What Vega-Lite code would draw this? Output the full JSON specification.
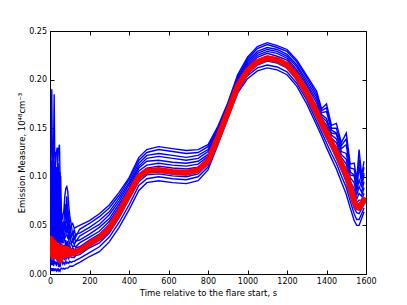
{
"$schema": "https://vega.github.io/schema/vega-lite/v6.json",
"width": 316, "height": 243,
"autosize": {"type": "none"},
"padding": {"left": 50, "top": 31, "right": 41, "bottom": 31},
"background": "white",
"config": {"font": "DejaVu Sans", "view": {"stroke": null},
  "axis": {"domainColor": "black", "tickColor": "black", "labelColor": "black", "titleColor": "black", "labelFont": "DejaVu Sans", "titleFont": "DejaVu Sans", "labelFontSize": 8, "titleFontSize": 8.5, "titleFontWeight": "normal", "grid": false, "tickSize": -4, "domainWidth": 1, "labelFlush": false, "labelOverlap": false}},
"datasets": {
"blue": [
{"t":0,"k":"a","v":0.037},{"t":0,"k":"b","v":0.035},{"t":0,"k":"c","v":0.061},{"t":0,"k":"d","v":0.046},{"t":0,"k":"e","v":0.085},{"t":0,"k":"f","v":0.057},{"t":0,"k":"g","v":0.110},{"t":0,"k":"h","v":0.017},{"t":0,"k":"i","v":0.011},{"t":0,"k":"j","v":0.004},
{"t":3,"k":"a","v":0.042},{"t":3,"k":"b","v":0.060},{"t":3,"k":"c","v":0.052},{"t":3,"k":"d","v":0.084},{"t":3,"k":"e","v":0.063},{"t":3,"k":"f","v":0.108},{"t":3,"k":"g","v":0.090},{"t":3,"k":"h","v":0.026},{"t":3,"k":"i","v":0.016},{"t":3,"k":"j","v":0.006},
{"t":6,"k":"a","v":0.041},{"t":6,"k":"b","v":0.039},{"t":6,"k":"c","v":0.077},{"t":6,"k":"d","v":0.055},{"t":6,"k":"e","v":0.113},{"t":6,"k":"f","v":0.072},{"t":6,"k":"g","v":0.150},{"t":6,"k":"h","v":0.016},{"t":6,"k":"i","v":0.009},{"t":6,"k":"j","v":0.003},
{"t":9,"k":"a","v":0.040},{"t":9,"k":"b","v":0.062},{"t":9,"k":"c","v":0.053},{"t":9,"k":"d","v":0.089},{"t":9,"k":"e","v":0.065},{"t":9,"k":"f","v":0.117},{"t":9,"k":"g","v":0.190},{"t":9,"k":"h","v":0.024},{"t":9,"k":"i","v":0.015},{"t":9,"k":"j","v":0.005},
{"t":12,"k":"a","v":0.035},{"t":12,"k":"b","v":0.033},{"t":12,"k":"c","v":0.063},{"t":12,"k":"d","v":0.046},{"t":12,"k":"e","v":0.091},{"t":12,"k":"f","v":0.059},{"t":12,"k":"g","v":0.120},{"t":12,"k":"h","v":0.015},{"t":12,"k":"i","v":0.009},{"t":12,"k":"j","v":0.004},
{"t":15,"k":"a","v":0.036},{"t":15,"k":"b","v":0.058},{"t":15,"k":"c","v":0.048},{"t":15,"k":"d","v":0.084},{"t":15,"k":"e","v":0.060},{"t":15,"k":"f","v":0.112},{"t":15,"k":"g","v":0.100},{"t":15,"k":"h","v":0.022},{"t":15,"k":"i","v":0.014},{"t":15,"k":"j","v":0.006},
{"t":18,"k":"a","v":0.035},{"t":18,"k":"b","v":0.033},{"t":18,"k":"c","v":0.066},{"t":18,"k":"d","v":0.047},{"t":18,"k":"e","v":0.098},{"t":18,"k":"f","v":0.061},{"t":18,"k":"g","v":0.130},{"t":18,"k":"h","v":0.013},{"t":18,"k":"i","v":0.008},{"t":18,"k":"j","v":0.003},
{"t":21,"k":"a","v":0.039},{"t":21,"k":"b","v":0.060},{"t":21,"k":"c","v":0.051},{"t":21,"k":"d","v":0.088},{"t":21,"k":"e","v":0.063},{"t":21,"k":"f","v":0.116},{"t":21,"k":"g","v":0.185},{"t":21,"k":"h","v":0.023},{"t":21,"k":"i","v":0.014},{"t":21,"k":"j","v":0.005},
{"t":24,"k":"a","v":0.038},{"t":24,"k":"b","v":0.035},{"t":24,"k":"c","v":0.066},{"t":24,"k":"d","v":0.048},{"t":24,"k":"e","v":0.095},{"t":24,"k":"f","v":0.062},{"t":24,"k":"g","v":0.125},{"t":24,"k":"h","v":0.016},{"t":24,"k":"i","v":0.010},{"t":24,"k":"j","v":0.004},
{"t":27,"k":"a","v":0.034},{"t":27,"k":"b","v":0.055},{"t":27,"k":"c","v":0.046},{"t":27,"k":"d","v":0.080},{"t":27,"k":"e","v":0.057},{"t":27,"k":"f","v":0.107},{"t":27,"k":"g","v":0.100},{"t":27,"k":"h","v":0.020},{"t":27,"k":"i","v":0.013},{"t":27,"k":"j","v":0.005},
{"t":30,"k":"a","v":0.041},{"t":30,"k":"b","v":0.039},{"t":30,"k":"c","v":0.069},{"t":30,"k":"d","v":0.051},{"t":30,"k":"e","v":0.096},{"t":30,"k":"f","v":0.064},{"t":30,"k":"g","v":0.125},{"t":30,"k":"h","v":0.019},{"t":30,"k":"i","v":0.011},{"t":30,"k":"j","v":0.004},
{"t":33,"k":"a","v":0.026},{"t":33,"k":"b","v":0.050},{"t":33,"k":"c","v":0.040},{"t":33,"k":"d","v":0.079},{"t":33,"k":"e","v":0.053},{"t":33,"k":"f","v":0.110},{"t":33,"k":"g","v":0.125},{"t":33,"k":"h","v":0.014},{"t":33,"k":"i","v":0.008},{"t":33,"k":"j","v":0.003},
{"t":36,"k":"a","v":0.044},{"t":36,"k":"b","v":0.042},{"t":36,"k":"c","v":0.072},{"t":36,"k":"d","v":0.055},{"t":36,"k":"e","v":0.101},{"t":36,"k":"f","v":0.068},{"t":36,"k":"g","v":0.130},{"t":36,"k":"h","v":0.021},{"t":36,"k":"i","v":0.013},{"t":36,"k":"j","v":0.005},
{"t":39,"k":"a","v":0.028},{"t":39,"k":"b","v":0.051},{"t":39,"k":"c","v":0.041},{"t":39,"k":"d","v":0.080},{"t":39,"k":"e","v":0.054},{"t":39,"k":"f","v":0.110},{"t":39,"k":"g","v":0.110},{"t":39,"k":"h","v":0.015},{"t":39,"k":"i","v":0.010},{"t":39,"k":"j","v":0.004},
{"t":42,"k":"a","v":0.042},{"t":42,"k":"b","v":0.040},{"t":42,"k":"c","v":0.070},{"t":42,"k":"d","v":0.053},{"t":42,"k":"e","v":0.099},{"t":42,"k":"f","v":0.066},{"t":42,"k":"g","v":0.128},{"t":42,"k":"h","v":0.020},{"t":42,"k":"i","v":0.012},{"t":42,"k":"j","v":0.005},
{"t":45,"k":"a","v":0.024},{"t":45,"k":"b","v":0.049},{"t":45,"k":"c","v":0.038},{"t":45,"k":"d","v":0.081},{"t":45,"k":"e","v":0.052},{"t":45,"k":"f","v":0.114},{"t":45,"k":"g","v":0.130},{"t":45,"k":"h","v":0.012},{"t":45,"k":"i","v":0.007},{"t":45,"k":"j","v":0.003},
{"t":48,"k":"a","v":0.040},{"t":48,"k":"b","v":0.038},{"t":48,"k":"c","v":0.071},{"t":48,"k":"d","v":0.052},{"t":48,"k":"e","v":0.101},{"t":48,"k":"f","v":0.066},{"t":48,"k":"g","v":0.133},{"t":48,"k":"h","v":0.017},{"t":48,"k":"i","v":0.011},{"t":48,"k":"j","v":0.004},
{"t":51,"k":"a","v":0.021},{"t":51,"k":"b","v":0.045},{"t":51,"k":"c","v":0.035},{"t":51,"k":"d","v":0.074},{"t":51,"k":"e","v":0.048},{"t":51,"k":"f","v":0.105},{"t":51,"k":"g","v":0.100},{"t":51,"k":"h","v":0.010},{"t":51,"k":"i","v":0.007},{"t":51,"k":"j","v":0.003},
{"t":54,"k":"a","v":0.034},{"t":54,"k":"b","v":0.032},{"t":54,"k":"c","v":0.055},{"t":54,"k":"d","v":0.042},{"t":54,"k":"e","v":0.077},{"t":54,"k":"f","v":0.052},{"t":54,"k":"g","v":0.100},{"t":54,"k":"h","v":0.016},{"t":54,"k":"i","v":0.011},{"t":54,"k":"j","v":0.005},
{"t":57,"k":"a","v":0.029},{"t":57,"k":"b","v":0.039},{"t":57,"k":"c","v":0.035},{"t":57,"k":"d","v":0.051},{"t":57,"k":"e","v":0.040},{"t":57,"k":"f","v":0.064},{"t":57,"k":"g","v":0.070},{"t":57,"k":"h","v":0.019},{"t":57,"k":"i","v":0.013},{"t":57,"k":"j","v":0.006},
{"t":60,"k":"a","v":0.031},{"t":60,"k":"b","v":0.033},{"t":60,"k":"c","v":0.039},{"t":60,"k":"d","v":0.038},{"t":60,"k":"e","v":0.047},{"t":60,"k":"f","v":0.044},{"t":60,"k":"g","v":0.055},{"t":60,"k":"h","v":0.020},{"t":60,"k":"i","v":0.013},{"t":60,"k":"j","v":0.006},
{"t":65,"k":"a","v":0.024},{"t":65,"k":"b","v":0.032},{"t":65,"k":"c","v":0.032},{"t":65,"k":"d","v":0.043},{"t":65,"k":"e","v":0.040},{"t":65,"k":"f","v":0.054},{"t":65,"k":"g","v":0.060},{"t":65,"k":"h","v":0.015},{"t":65,"k":"i","v":0.010},{"t":65,"k":"j","v":0.005},
{"t":70,"k":"a","v":0.030},{"t":70,"k":"b","v":0.032},{"t":70,"k":"c","v":0.042},{"t":70,"k":"d","v":0.040},{"t":70,"k":"e","v":0.053},{"t":70,"k":"f","v":0.049},{"t":70,"k":"g","v":0.065},{"t":70,"k":"h","v":0.018},{"t":70,"k":"i","v":0.012},{"t":70,"k":"j","v":0.006},
{"t":75,"k":"a","v":0.025},{"t":75,"k":"b","v":0.037},{"t":75,"k":"c","v":0.037},{"t":75,"k":"d","v":0.054},{"t":75,"k":"e","v":0.049},{"t":75,"k":"f","v":0.072},{"t":75,"k":"g","v":0.080},{"t":75,"k":"h","v":0.014},{"t":75,"k":"i","v":0.010},{"t":75,"k":"j","v":0.005},
{"t":80,"k":"a","v":0.035},{"t":80,"k":"b","v":0.039},{"t":80,"k":"c","v":0.053},{"t":80,"k":"d","v":0.051},{"t":80,"k":"e","v":0.070},{"t":80,"k":"f","v":0.063},{"t":80,"k":"g","v":0.088},{"t":80,"k":"h","v":0.019},{"t":80,"k":"i","v":0.013},{"t":80,"k":"j","v":0.006},
{"t":85,"k":"a","v":0.028},{"t":85,"k":"b","v":0.041},{"t":85,"k":"c","v":0.042},{"t":85,"k":"d","v":0.060},{"t":85,"k":"e","v":0.055},{"t":85,"k":"f","v":0.080},{"t":85,"k":"g","v":0.090},{"t":85,"k":"h","v":0.016},{"t":85,"k":"i","v":0.011},{"t":85,"k":"j","v":0.006},
{"t":90,"k":"a","v":0.034},{"t":90,"k":"b","v":0.037},{"t":90,"k":"c","v":0.051},{"t":90,"k":"d","v":0.049},{"t":90,"k":"e","v":0.068},{"t":90,"k":"f","v":0.061},{"t":90,"k":"g","v":0.085},{"t":90,"k":"h","v":0.019},{"t":90,"k":"i","v":0.012},{"t":90,"k":"j","v":0.006},
{"t":95,"k":"a","v":0.025},{"t":95,"k":"b","v":0.035},{"t":95,"k":"c","v":0.035},{"t":95,"k":"d","v":0.049},{"t":95,"k":"e","v":0.045},{"t":95,"k":"f","v":0.063},{"t":95,"k":"g","v":0.070},{"t":95,"k":"h","v":0.016},{"t":95,"k":"i","v":0.011},{"t":95,"k":"j","v":0.007},
{"t":100,"k":"a","v":0.029},{"t":100,"k":"b","v":0.031},{"t":100,"k":"c","v":0.040},{"t":100,"k":"d","v":0.038},{"t":100,"k":"e","v":0.050},{"t":100,"k":"f","v":0.046},{"t":100,"k":"g","v":0.060},{"t":100,"k":"h","v":0.019},{"t":100,"k":"i","v":0.013},{"t":100,"k":"j","v":0.008},
{"t":108,"k":"a","v":0.025},{"t":108,"k":"b","v":0.031},{"t":108,"k":"c","v":0.031},{"t":108,"k":"d","v":0.040},{"t":108,"k":"e","v":0.038},{"t":108,"k":"f","v":0.050},{"t":108,"k":"g","v":0.050},{"t":108,"k":"h","v":0.017},{"t":108,"k":"i","v":0.012},{"t":108,"k":"j","v":0.008},
{"t":115,"k":"a","v":0.027},{"t":115,"k":"b","v":0.028},{"t":115,"k":"c","v":0.035},{"t":115,"k":"d","v":0.034},{"t":115,"k":"e","v":0.043},{"t":115,"k":"f","v":0.040},{"t":115,"k":"g","v":0.052},{"t":115,"k":"h","v":0.017},{"t":115,"k":"i","v":0.013},{"t":115,"k":"j","v":0.008},
{"t":123,"k":"a","v":0.024},{"t":123,"k":"b","v":0.029},{"t":123,"k":"c","v":0.030},{"t":123,"k":"d","v":0.038},{"t":123,"k":"e","v":0.035},{"t":123,"k":"f","v":0.046},{"t":123,"k":"g","v":0.047},{"t":123,"k":"h","v":0.017},{"t":123,"k":"i","v":0.013},{"t":123,"k":"j","v":0.009},
{"t":130,"k":"a","v":0.027},{"t":130,"k":"b","v":0.028},{"t":130,"k":"c","v":0.034},{"t":130,"k":"d","v":0.033},{"t":130,"k":"e","v":0.041},{"t":130,"k":"f","v":0.038},{"t":130,"k":"g","v":0.048},{"t":130,"k":"h","v":0.019},{"t":130,"k":"i","v":0.014},{"t":130,"k":"j","v":0.010},
{"t":150,"k":"a","v":0.028},{"t":150,"k":"b","v":0.032},{"t":150,"k":"c","v":0.035},{"t":150,"k":"d","v":0.039},{"t":150,"k":"e","v":0.042},{"t":150,"k":"f","v":0.046},{"t":150,"k":"g","v":0.050},{"t":150,"k":"h","v":0.020},{"t":150,"k":"i","v":0.016},{"t":150,"k":"j","v":0.012},
{"t":200,"k":"a","v":0.035},{"t":200,"k":"b","v":0.038},{"t":200,"k":"c","v":0.041},{"t":200,"k":"d","v":0.045},{"t":200,"k":"e","v":0.048},{"t":200,"k":"f","v":0.052},{"t":200,"k":"g","v":0.055},{"t":200,"k":"h","v":0.027},{"t":200,"k":"i","v":0.022},{"t":200,"k":"j","v":0.018},
{"t":250,"k":"a","v":0.041},{"t":250,"k":"b","v":0.044},{"t":250,"k":"c","v":0.048},{"t":250,"k":"d","v":0.051},{"t":250,"k":"e","v":0.055},{"t":250,"k":"f","v":0.059},{"t":250,"k":"g","v":0.062},{"t":250,"k":"h","v":0.032},{"t":250,"k":"i","v":0.028},{"t":250,"k":"j","v":0.023},
{"t":300,"k":"a","v":0.051},{"t":300,"k":"b","v":0.054},{"t":300,"k":"c","v":0.057},{"t":300,"k":"d","v":0.061},{"t":300,"k":"e","v":0.064},{"t":300,"k":"f","v":0.068},{"t":300,"k":"g","v":0.071},{"t":300,"k":"h","v":0.042},{"t":300,"k":"i","v":0.038},{"t":300,"k":"j","v":0.033},
{"t":350,"k":"a","v":0.066},{"t":350,"k":"b","v":0.069},{"t":350,"k":"c","v":0.072},{"t":350,"k":"d","v":0.075},{"t":350,"k":"e","v":0.078},{"t":350,"k":"f","v":0.081},{"t":350,"k":"g","v":0.084},{"t":350,"k":"h","v":0.058},{"t":350,"k":"i","v":0.053},{"t":350,"k":"j","v":0.048},
{"t":400,"k":"a","v":0.085},{"t":400,"k":"b","v":0.087},{"t":400,"k":"c","v":0.089},{"t":400,"k":"d","v":0.092},{"t":400,"k":"e","v":0.094},{"t":400,"k":"f","v":0.097},{"t":400,"k":"g","v":0.099},{"t":400,"k":"h","v":0.077},{"t":400,"k":"i","v":0.071},{"t":400,"k":"j","v":0.066},
{"t":450,"k":"a","v":0.103},{"t":450,"k":"b","v":0.106},{"t":450,"k":"c","v":0.109},{"t":450,"k":"d","v":0.111},{"t":450,"k":"e","v":0.114},{"t":450,"k":"f","v":0.117},{"t":450,"k":"g","v":0.120},{"t":450,"k":"h","v":0.095},{"t":450,"k":"i","v":0.091},{"t":450,"k":"j","v":0.086},
{"t":490,"k":"a","v":0.109},{"t":490,"k":"b","v":0.112},{"t":490,"k":"c","v":0.116},{"t":490,"k":"d","v":0.119},{"t":490,"k":"e","v":0.122},{"t":490,"k":"f","v":0.125},{"t":490,"k":"g","v":0.128},{"t":490,"k":"h","v":0.102},{"t":490,"k":"i","v":0.098},{"t":490,"k":"j","v":0.094},
{"t":550,"k":"a","v":0.111},{"t":550,"k":"b","v":0.114},{"t":550,"k":"c","v":0.117},{"t":550,"k":"d","v":0.121},{"t":550,"k":"e","v":0.124},{"t":550,"k":"f","v":0.128},{"t":550,"k":"g","v":0.131},{"t":550,"k":"h","v":0.103},{"t":550,"k":"i","v":0.100},{"t":550,"k":"j","v":0.096},
{"t":620,"k":"a","v":0.109},{"t":620,"k":"b","v":0.112},{"t":620,"k":"c","v":0.115},{"t":620,"k":"d","v":0.119},{"t":620,"k":"e","v":0.122},{"t":620,"k":"f","v":0.126},{"t":620,"k":"g","v":0.129},{"t":620,"k":"h","v":0.101},{"t":620,"k":"i","v":0.098},{"t":620,"k":"j","v":0.094},
{"t":690,"k":"a","v":0.108},{"t":690,"k":"b","v":0.111},{"t":690,"k":"c","v":0.114},{"t":690,"k":"d","v":0.117},{"t":690,"k":"e","v":0.120},{"t":690,"k":"f","v":0.124},{"t":690,"k":"g","v":0.127},{"t":690,"k":"h","v":0.100},{"t":690,"k":"i","v":0.097},{"t":690,"k":"j","v":0.093},
{"t":750,"k":"a","v":0.110},{"t":750,"k":"b","v":0.113},{"t":750,"k":"c","v":0.116},{"t":750,"k":"d","v":0.119},{"t":750,"k":"e","v":0.122},{"t":750,"k":"f","v":0.125},{"t":750,"k":"g","v":0.128},{"t":750,"k":"h","v":0.103},{"t":750,"k":"i","v":0.100},{"t":750,"k":"j","v":0.096},
{"t":800,"k":"a","v":0.119},{"t":800,"k":"b","v":0.121},{"t":800,"k":"c","v":0.123},{"t":800,"k":"d","v":0.126},{"t":800,"k":"e","v":0.128},{"t":800,"k":"f","v":0.131},{"t":800,"k":"g","v":0.133},{"t":800,"k":"h","v":0.113},{"t":800,"k":"i","v":0.110},{"t":800,"k":"j","v":0.107},
{"t":850,"k":"a","v":0.142},{"t":850,"k":"b","v":0.144},{"t":850,"k":"c","v":0.145},{"t":850,"k":"d","v":0.147},{"t":850,"k":"e","v":0.149},{"t":850,"k":"f","v":0.150},{"t":850,"k":"g","v":0.152},{"t":850,"k":"h","v":0.138},{"t":850,"k":"i","v":0.135},{"t":850,"k":"j","v":0.133},
{"t":900,"k":"a","v":0.168},{"t":900,"k":"b","v":0.169},{"t":900,"k":"c","v":0.170},{"t":900,"k":"d","v":0.172},{"t":900,"k":"e","v":0.173},{"t":900,"k":"f","v":0.175},{"t":900,"k":"g","v":0.176},{"t":900,"k":"h","v":0.164},{"t":900,"k":"i","v":0.162},{"t":900,"k":"j","v":0.160},
{"t":950,"k":"a","v":0.195},{"t":950,"k":"b","v":0.196},{"t":950,"k":"c","v":0.198},{"t":950,"k":"d","v":0.200},{"t":950,"k":"e","v":0.201},{"t":950,"k":"f","v":0.203},{"t":950,"k":"g","v":0.205},{"t":950,"k":"h","v":0.191},{"t":950,"k":"i","v":0.188},{"t":950,"k":"j","v":0.186},
{"t":1000,"k":"a","v":0.211},{"t":1000,"k":"b","v":0.213},{"t":1000,"k":"c","v":0.215},{"t":1000,"k":"d","v":0.217},{"t":1000,"k":"e","v":0.219},{"t":1000,"k":"f","v":0.221},{"t":1000,"k":"g","v":0.223},{"t":1000,"k":"h","v":0.206},{"t":1000,"k":"i","v":0.204},{"t":1000,"k":"j","v":0.201},
{"t":1050,"k":"a","v":0.220},{"t":1050,"k":"b","v":0.223},{"t":1050,"k":"c","v":0.225},{"t":1050,"k":"d","v":0.227},{"t":1050,"k":"e","v":0.229},{"t":1050,"k":"f","v":0.232},{"t":1050,"k":"g","v":0.234},{"t":1050,"k":"h","v":0.215},{"t":1050,"k":"i","v":0.212},{"t":1050,"k":"j","v":0.209},
{"t":1100,"k":"a","v":0.224},{"t":1100,"k":"b","v":0.227},{"t":1100,"k":"c","v":0.229},{"t":1100,"k":"d","v":0.231},{"t":1100,"k":"e","v":0.233},{"t":1100,"k":"f","v":0.236},{"t":1100,"k":"g","v":0.238},{"t":1100,"k":"h","v":0.219},{"t":1100,"k":"i","v":0.215},{"t":1100,"k":"j","v":0.212},
{"t":1150,"k":"a","v":0.222},{"t":1150,"k":"b","v":0.224},{"t":1150,"k":"c","v":0.227},{"t":1150,"k":"d","v":0.229},{"t":1150,"k":"e","v":0.231},{"t":1150,"k":"f","v":0.233},{"t":1150,"k":"g","v":0.235},{"t":1150,"k":"h","v":0.217},{"t":1150,"k":"i","v":0.213},{"t":1150,"k":"j","v":0.210},
{"t":1200,"k":"a","v":0.217},{"t":1200,"k":"b","v":0.220},{"t":1200,"k":"c","v":0.222},{"t":1200,"k":"d","v":0.224},{"t":1200,"k":"e","v":0.226},{"t":1200,"k":"f","v":0.229},{"t":1200,"k":"g","v":0.231},{"t":1200,"k":"h","v":0.212},{"t":1200,"k":"i","v":0.208},{"t":1200,"k":"j","v":0.205},
{"t":1250,"k":"a","v":0.206},{"t":1250,"k":"b","v":0.208},{"t":1250,"k":"c","v":0.210},{"t":1250,"k":"d","v":0.213},{"t":1250,"k":"e","v":0.215},{"t":1250,"k":"f","v":0.218},{"t":1250,"k":"g","v":0.220},{"t":1250,"k":"h","v":0.200},{"t":1250,"k":"i","v":0.196},{"t":1250,"k":"j","v":0.193},
{"t":1300,"k":"a","v":0.189},{"t":1300,"k":"b","v":0.191},{"t":1300,"k":"c","v":0.194},{"t":1300,"k":"d","v":0.196},{"t":1300,"k":"e","v":0.199},{"t":1300,"k":"f","v":0.202},{"t":1300,"k":"g","v":0.204},{"t":1300,"k":"h","v":0.182},{"t":1300,"k":"i","v":0.179},{"t":1300,"k":"j","v":0.175},
{"t":1350,"k":"a","v":0.169},{"t":1350,"k":"b","v":0.172},{"t":1350,"k":"c","v":0.176},{"t":1350,"k":"d","v":0.179},{"t":1350,"k":"e","v":0.182},{"t":1350,"k":"f","v":0.185},{"t":1350,"k":"g","v":0.188},{"t":1350,"k":"h","v":0.162},{"t":1350,"k":"i","v":0.157},{"t":1350,"k":"j","v":0.153},
{"t":1375,"k":"a","v":0.158},{"t":1375,"k":"b","v":0.160},{"t":1375,"k":"c","v":0.162},{"t":1375,"k":"d","v":0.164},{"t":1375,"k":"e","v":0.166},{"t":1375,"k":"f","v":0.168},{"t":1375,"k":"g","v":0.170},{"t":1375,"k":"h","v":0.151},{"t":1375,"k":"i","v":0.146},{"t":1375,"k":"j","v":0.142},
{"t":1400,"k":"a","v":0.149},{"t":1400,"k":"b","v":0.153},{"t":1400,"k":"c","v":0.157},{"t":1400,"k":"d","v":0.160},{"t":1400,"k":"e","v":0.167},{"t":1400,"k":"f","v":0.171},{"t":1400,"k":"g","v":0.175},{"t":1400,"k":"h","v":0.140},{"t":1400,"k":"i","v":0.135},{"t":1400,"k":"j","v":0.130},
{"t":1425,"k":"a","v":0.138},{"t":1425,"k":"b","v":0.140},{"t":1425,"k":"c","v":0.143},{"t":1425,"k":"d","v":0.145},{"t":1425,"k":"e","v":0.148},{"t":1425,"k":"f","v":0.150},{"t":1425,"k":"g","v":0.153},{"t":1425,"k":"h","v":0.130},{"t":1425,"k":"i","v":0.124},{"t":1425,"k":"j","v":0.119},
{"t":1450,"k":"a","v":0.130},{"t":1450,"k":"b","v":0.135},{"t":1450,"k":"c","v":0.139},{"t":1450,"k":"d","v":0.144},{"t":1450,"k":"e","v":0.145},{"t":1450,"k":"f","v":0.150},{"t":1450,"k":"g","v":0.155},{"t":1450,"k":"h","v":0.119},{"t":1450,"k":"i","v":0.114},{"t":1450,"k":"j","v":0.108},
{"t":1475,"k":"a","v":0.117},{"t":1475,"k":"b","v":0.120},{"t":1475,"k":"c","v":0.123},{"t":1475,"k":"d","v":0.126},{"t":1475,"k":"e","v":0.129},{"t":1475,"k":"f","v":0.132},{"t":1475,"k":"g","v":0.135},{"t":1475,"k":"h","v":0.107},{"t":1475,"k":"i","v":0.101},{"t":1475,"k":"j","v":0.095},
{"t":1500,"k":"a","v":0.108},{"t":1500,"k":"b","v":0.113},{"t":1500,"k":"c","v":0.118},{"t":1500,"k":"d","v":0.124},{"t":1500,"k":"e","v":0.133},{"t":1500,"k":"f","v":0.139},{"t":1500,"k":"g","v":0.145},{"t":1500,"k":"h","v":0.095},{"t":1500,"k":"i","v":0.089},{"t":1500,"k":"j","v":0.082},
{"t":1520,"k":"a","v":0.092},{"t":1520,"k":"b","v":0.095},{"t":1520,"k":"c","v":0.099},{"t":1520,"k":"d","v":0.102},{"t":1520,"k":"e","v":0.105},{"t":1520,"k":"f","v":0.109},{"t":1520,"k":"g","v":0.113},{"t":1520,"k":"h","v":0.081},{"t":1520,"k":"i","v":0.075},{"t":1520,"k":"j","v":0.068},
{"t":1540,"k":"a","v":0.082},{"t":1540,"k":"b","v":0.088},{"t":1540,"k":"c","v":0.094},{"t":1540,"k":"d","v":0.101},{"t":1540,"k":"e","v":0.102},{"t":1540,"k":"f","v":0.108},{"t":1540,"k":"g","v":0.114},{"t":1540,"k":"h","v":0.068},{"t":1540,"k":"i","v":0.062},{"t":1540,"k":"j","v":0.055},
{"t":1553,"k":"a","v":0.073},{"t":1553,"k":"b","v":0.077},{"t":1553,"k":"c","v":0.081},{"t":1553,"k":"d","v":0.085},{"t":1553,"k":"e","v":0.089},{"t":1553,"k":"f","v":0.093},{"t":1553,"k":"g","v":0.097},{"t":1553,"k":"h","v":0.063},{"t":1553,"k":"i","v":0.056},{"t":1553,"k":"j","v":0.050},
{"t":1565,"k":"a","v":0.076},{"t":1565,"k":"b","v":0.083},{"t":1565,"k":"c","v":0.090},{"t":1565,"k":"d","v":0.097},{"t":1565,"k":"e","v":0.110},{"t":1565,"k":"f","v":0.118},{"t":1565,"k":"g","v":0.128},{"t":1565,"k":"h","v":0.062},{"t":1565,"k":"i","v":0.056},{"t":1565,"k":"j","v":0.050},
{"t":1578,"k":"a","v":0.076},{"t":1578,"k":"b","v":0.080},{"t":1578,"k":"c","v":0.084},{"t":1578,"k":"d","v":0.089},{"t":1578,"k":"e","v":0.093},{"t":1578,"k":"f","v":0.097},{"t":1578,"k":"g","v":0.101},{"t":1578,"k":"h","v":0.067},{"t":1578,"k":"i","v":0.062},{"t":1578,"k":"j","v":0.057},
{"t":1590,"k":"a","v":0.083},{"t":1590,"k":"b","v":0.089},{"t":1590,"k":"c","v":0.095},{"t":1590,"k":"d","v":0.102},{"t":1590,"k":"e","v":0.104},{"t":1590,"k":"f","v":0.110},{"t":1590,"k":"g","v":0.116},{"t":1590,"k":"h","v":0.072},{"t":1590,"k":"i","v":0.068},{"t":1590,"k":"j","v":0.064}
],
"red": [
{"t":0,"v":0.024},{"t":3,"v":0.036},{"t":6,"v":0.022},{"t":9,"v":0.034},{"t":12,"v":0.020},{"t":15,"v":0.030},{"t":18,"v":0.018},{"t":21,"v":0.032},{"t":24,"v":0.022},{"t":27,"v":0.028},{"t":30,"v":0.026},{"t":33,"v":0.019},{"t":36,"v":0.029},{"t":39,"v":0.021},{"t":42,"v":0.027},{"t":45,"v":0.016},{"t":48,"v":0.024},{"t":51,"v":0.014},{"t":54,"v":0.022},{"t":57,"v":0.026},{"t":60,"v":0.027},{"t":65,"v":0.020},{"t":70,"v":0.024},{"t":75,"v":0.019},{"t":80,"v":0.026},{"t":85,"v":0.021},{"t":90,"v":0.025},{"t":95,"v":0.020},{"t":100,"v":0.024},{"t":108,"v":0.021},{"t":115,"v":0.022},{"t":123,"v":0.021},{"t":130,"v":0.023},{"t":150,"v":0.024},{"t":200,"v":0.031},{"t":250,"v":0.037},{"t":300,"v":0.047},{"t":350,"v":0.063},{"t":400,"v":0.082},{"t":450,"v":0.100},{"t":490,"v":0.106},{"t":550,"v":0.107},{"t":620,"v":0.105},{"t":690,"v":0.104},{"t":750,"v":0.107},{"t":800,"v":0.116},{"t":850,"v":0.140},{"t":900,"v":0.166},{"t":950,"v":0.193},{"t":1000,"v":0.209},{"t":1050,"v":0.218},{"t":1100,"v":0.222},{"t":1150,"v":0.220},{"t":1200,"v":0.215},{"t":1250,"v":0.203},{"t":1300,"v":0.186},{"t":1350,"v":0.166},{"t":1375,"v":0.155},{"t":1400,"v":0.145},{"t":1425,"v":0.135},{"t":1450,"v":0.125},{"t":1475,"v":0.113},{"t":1500,"v":0.102},{"t":1520,"v":0.089},{"t":1540,"v":0.075},{"t":1553,"v":0.069},{"t":1565,"v":0.068},{"t":1578,"v":0.072},{"t":1590,"v":0.076}
]
},
"layer": [
{"data": {"name": "blue"},
 "mark": {"type": "line", "color": "#0000ff", "strokeWidth": 1.4, "clip": true},
 "encoding": {
  "x": {"field": "t", "type": "quantitative", "scale": {"domain": [0, 1600], "nice": false, "zero": false},
        "axis": {"orient": "bottom", "values": [0,200,400,600,800,1000,1200,1400,1600], "format": "d", "title": "Time relative to the flare start, s", "labelPadding": 7, "titlePadding": 3}},
  "y": {"field": "v", "type": "quantitative", "scale": {"domain": [0, 0.25], "nice": false},
        "axis": {"orient": "left", "values": [0,0.05,0.1,0.15,0.2,0.25], "format": ".2f", "title": "Emission Measure, 10⁴⁸cm⁻³", "labelPadding": 7.5, "titlePadding": 2}},
  "detail": {"field": "k", "type": "nominal"}
 }},
{"data": {"name": "red"},
 "mark": {"type": "line", "color": "#ff0000", "strokeWidth": 6, "strokeJoin": "round", "strokeCap": "round", "clip": true},
 "encoding": {
  "x": {"field": "t", "type": "quantitative", "axis": {"orient": "top", "values": [0,200,400,600,800,1000,1200,1400,1600], "labels": false, "title": null}},
  "y": {"field": "v", "type": "quantitative", "axis": {"orient": "right", "values": [0,0.05,0.1,0.15,0.2,0.25], "labels": false, "title": null}}
 }}
],
"resolve": {"axis": {"x": "independent", "y": "independent"}}
}
